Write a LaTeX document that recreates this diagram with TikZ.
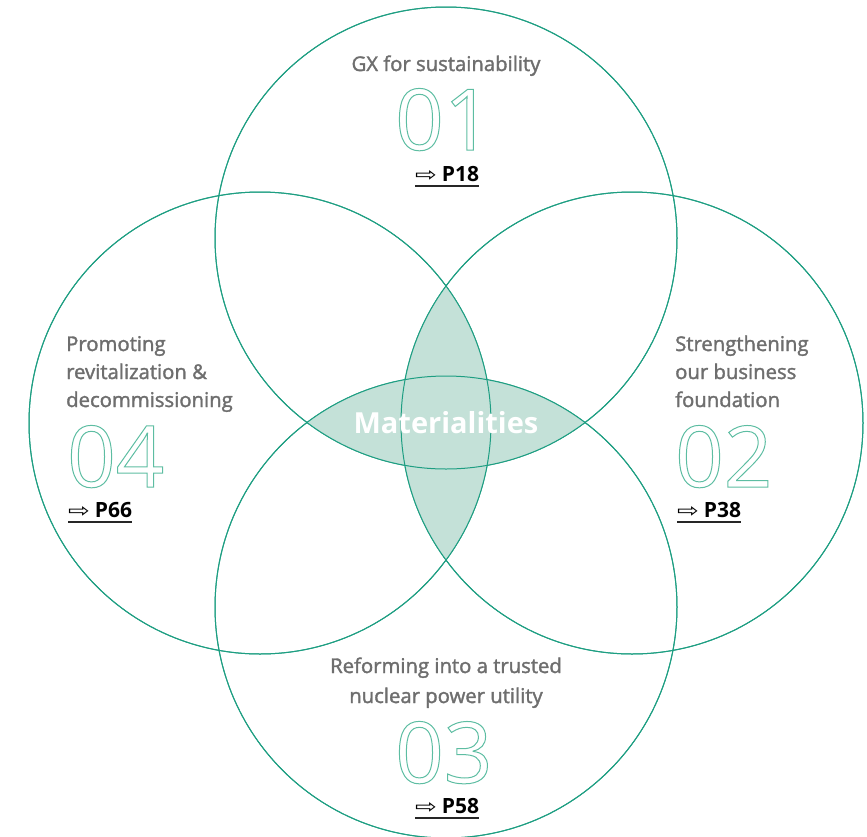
\documentclass[tikz,border=0pt]{standalone}
\usepackage{fontspec}
\setmainfont{Open Sans}
\newfontfamily\arrowfont{DejaVu Sans}
\usetikzlibrary{positioning}

\definecolor{ringteal}{HTML}{1E9E82}
\definecolor{lensfill}{HTML}{C4E1D8}
\definecolor{numteal}{HTML}{5DBDA2}
\definecolor{topicgray}{HTML}{6E6E6E}

% stroked (outline) digits, slightly heavier topic text
\newcommand{\outlinenum}[1]{\special{pdf:literal direct 1 Tr 1 w}#1\special{pdf:literal direct 0 Tr}}
\newcommand{\heavy}[1]{\special{pdf:literal direct 2 Tr 0.35 w}#1\special{pdf:literal direct 0 Tr}}
\newcommand{\pagelink}[1]{\scalebox{1}[0.75]{\arrowfont\mdseries\fontsize{26}{26}\selectfont ⇨}\hspace{5pt}#1}

\begin{document}
\begin{tikzpicture}[x=1pt,y=-1pt,
    ring/.style={circle,draw=ringteal,line width=1pt,minimum size=462pt,inner sep=0pt},
    topic/.style={font=\fontsize{20.3}{28}\selectfont,text=topicgray,inner sep=0pt},
    num/.style={font=\fontsize{85}{85}\selectfont,text=numteal,inner sep=0pt,anchor=base west},
    pageref/.style={font=\fontsize{21}{21}\selectfont\bfseries,inner sep=0pt,anchor=base west},
    uline/.style={draw=black!85,line width=1.4pt}]

  \useasboundingbox (0,0) rectangle (867,836);

  % the four circles
  \node[ring] (gx)  at (446,238) {};
  \node[ring] (biz) at (632,423) {};
  \node[ring] (nuc) at (446,607) {};
  \node[ring] (rev) at (260,423) {};

  % shaded lenses
  \begin{scope}
    \clip (gx.center) circle (231pt);
    \fill[lensfill] (nuc.center) circle (231pt);
  \end{scope}
  \begin{scope}
    \clip (rev.center) circle (231pt);
    \fill[lensfill] (biz.center) circle (231pt);
  \end{scope}
  \foreach \c in {gx,biz,nuc,rev}
    \draw[ringteal,line width=1pt] (\c.center) circle (231pt);

  \node[font=\fontsize{29}{29}\selectfont\bfseries,text=white,inner sep=0pt,anchor=base]
    (mat) at (446,433) {Materialities};

  % 01
  \node[topic,anchor=base] (t1) at (446,71) {\heavy{GX for sustainability}};
  \node[num] (n1) at (395,150) {\outlinenum{01}};
  \node[pageref] (p1) at (415,181) {\pagelink{P18}};
  \path[uline] (p1.base west) ++(0,5) coordinate (u1) -- (p1.base east |- u1);

  % 02
  \node[topic,anchor=base west,align=left] (t2) at (675,407)
    {\heavy{Strengthening}\\\heavy{our business}\\\heavy{foundation}};
  \node[num] (n2) at (675,487) {\outlinenum{02}};
  \node[pageref] (p2) at (677,517) {\pagelink{P38}};
  \path[uline] (p2.base west) ++(0,5) coordinate (u2) -- (p2.base east |- u2);

  % 03
  \node[topic,anchor=base,align=center,font=\fontsize{20.3}{30}\selectfont] (t3) at (446,703)
    {\heavy{Reforming into a trusted}\\\heavy{nuclear power utility}};
  \node[num] (n3) at (395,783) {\outlinenum{03}};
  \node[pageref] (p3) at (415,813) {\pagelink{P58}};
  \path[uline] (p3.base west) ++(0,5) coordinate (u3) -- (p3.base east |- u3);

  % 04
  \node[topic,anchor=base west,align=left] (t4) at (66,407)
    {\heavy{Promoting}\\\heavy{revitalization \&}\\\heavy{decommissioning}};
  \node[num] (n4) at (67,487) {\outlinenum{04}};
  \node[pageref] (p4) at (68,517) {\pagelink{P66}};
  \path[uline] (p4.base west) ++(0,5) coordinate (u4) -- (p4.base east |- u4);
\end{tikzpicture}
\end{document}
